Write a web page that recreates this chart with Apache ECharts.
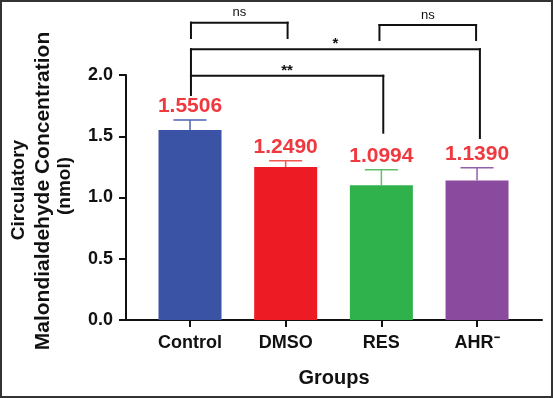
<!DOCTYPE html>
<html>
<head>
<meta charset="utf-8">
<script src="https://cdn.jsdelivr.net/npm/echarts@6/dist/echarts.min.js"></script>
<style>
  html, body { margin: 0; padding: 0; background: #fff; }
  #chart { width: 553px; height: 398px; }
</style>
</head>
<body>
<div id="chart"></div>
<script>
// data
const groups = ['Control', 'DMSO', 'RES', 'AHR\u207B']
const means = [1.5506, 1.2490, 1.0994, 1.1390]
const errors = [0.083, 0.05, 0.127, 0.103]

// significance brackets: [fromX, toX, topY, leftLegEndY, rightLegEndY]
const brackets = [
  [0.01, 1.02, 2.427, 2.302, 2.302],
  [1.98, 2.99, 2.408, 2.286, 2.286],
  [0.01, 3.03, 2.210, 1.994, 1.486],
  [0.01, 2.02, 1.994, 1.837, 1.529],
]
const bracketLabels = ['ns', 'ns', '*', '**']

const barColors = ['#3a53a4', '#ed1c24', '#2fb24b', '#8a4b9e']
const errColors = ['#4d62b0', '#f05a52', '#5cbf6c', '#9360a8']
const FONT = '"Liberation Sans", Arial, sans-serif'

const chart = echarts.init(document.getElementById('chart'))

function seg(p, q) {
  return {
    type: 'line',
    shape: { x1: p[0], y1: p[1], x2: q[0], y2: q[1] },
    style: { stroke: '#111', lineWidth: 2, lineCap: 'square' },
  }
}

const option = {
  animation: false,
  backgroundColor: '#fff',
  grid: { left: 126, right: 11, top: 75, bottom: 78 },
  xAxis: {
    type: 'value',
    min: -0.669,
    max: 3.679,
    splitLine: { show: false },
    axisLine: { show: true, onZero: false, lineStyle: { color: '#111', width: 2 } },
    axisTick: { show: true, customValues: [0, 1, 2, 3], length: 7, lineStyle: { color: '#111', width: 2 } },
    axisLabel: {
      customValues: [0, 1, 2, 3],
      formatter: (v) => groups[Math.round(v)],
      margin: 14,
      color: '#111',
      fontSize: 18,
      fontWeight: 'bold',
      fontFamily: FONT,
    },
    name: 'Groups',
    nameLocation: 'middle',
    nameGap: 48,
    nameTextStyle: { color: '#111', fontSize: 20, fontWeight: 'bold', fontFamily: FONT },
  },
  yAxis: {
    type: 'value',
    min: 0,
    max: 2,
    interval: 0.5,
    splitLine: { show: false },
    axisLine: { show: true, onZero: false, lineStyle: { color: '#111', width: 2 } },
    axisTick: { show: true, length: 7, lineStyle: { color: '#111', width: 2 } },
    axisLabel: {
      margin: 13,
      color: '#111',
      fontSize: 18,
      fontWeight: 'bold',
      fontFamily: FONT,
      formatter: (v) => v.toFixed(1),
    },
  },
  graphic: [
    {
      type: 'rect',
      shape: { x: 1, y: 1, width: 551, height: 396 },
      style: { fill: 'none', stroke: '#333', lineWidth: 2 },
      silent: true,
    },
    {
      type: 'text', x: 19, y: 190, rotation: Math.PI / 2,
      style: { text: 'Circulatory', fill: '#111', font: 'bold 19px ' + FONT, align: 'center', verticalAlign: 'middle' },
    },
    {
      type: 'text', x: 43, y: 191, rotation: Math.PI / 2,
      style: { text: 'Malondialdehyde Concentration', fill: '#111', font: 'bold 21px ' + FONT, align: 'center', verticalAlign: 'middle' },
    },
    {
      type: 'text', x: 65, y: 186, rotation: Math.PI / 2,
      style: { text: '(nmol)', fill: '#111', font: 'bold 19px ' + FONT, align: 'center', verticalAlign: 'middle' },
    },
  ],
  series: [
    {
      type: 'bar',
      barWidth: 63,
      data: means.map((v, i) => ({
        value: [i, v],
        itemStyle: { color: barColors[i] },
      })),
    },
    {
      type: 'custom',
      clip: false,
      z: 3,
      data: means.map((v, i) => [i, v, errors[i]]),
      renderItem(params, api) {
        const i = params.dataIndex
        const x = api.value(0)
        const v = api.value(1)
        const e = api.value(2)
        const p0 = api.coord([x, v])
        const p1 = api.coord([x, v + e])
        const hw = 16.5
        const stroke = errColors[i]
        return {
          type: 'group',
          children: [
            { type: 'line', shape: { x1: p0[0], y1: p0[1], x2: p1[0], y2: p1[1] }, style: { stroke, lineWidth: 1.5 } },
            { type: 'line', shape: { x1: p1[0] - hw, y1: p1[1], x2: p1[0] + hw, y2: p1[1] }, style: { stroke, lineWidth: 1.5 } },
            {
              type: 'text', x: p1[0], y: p1[1] - 3,
              style: { text: v.toFixed(4), fill: '#f0383f', font: 'bold 21px ' + FONT, align: 'center', verticalAlign: 'bottom' },
            },
          ],
        }
      },
    },
    {
      type: 'custom',
      clip: false,
      z: 4,
      data: brackets,
      renderItem(params, api) {
        const label = bracketLabels[params.dataIndex]
        const a = api.coord([api.value(0), api.value(2)])
        const b = api.coord([api.value(1), api.value(2)])
        const aEnd = api.coord([api.value(0), api.value(3)])
        const bEnd = api.coord([api.value(1), api.value(4)])
        const isStar = label.indexOf('*') >= 0
        return {
          type: 'group',
          children: [
            seg(aEnd, a),
            seg(a, b),
            seg(b, bEnd),
            {
              type: 'text', x: (a[0] + b[0]) / 2, y: a[1] - (isStar ? 5 : 10),
              style: {
                text: label,
                fill: '#111',
                font: (isStar ? 'bold 15px ' : '13px ') + FONT,
                align: 'center',
                verticalAlign: 'middle',
              },
            },
          ],
        }
      },
    },
  ],
}

chart.setOption(option)
window.addEventListener('resize', () => chart.resize())
</script>
</body>
</html>
